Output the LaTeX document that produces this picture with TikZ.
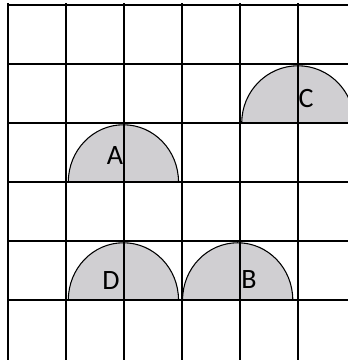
\documentclass[tikz,border=0pt]{standalone}
\usepackage{fontspec}
\setmainfont{Carlito}
\usepackage{xcolor}
\definecolor{discgray}{RGB}{208,207,210}

\begin{document}
\begin{tikzpicture}[x=43.5pt, y=44.25pt, line/.style={line width=1.6pt, black}, half/.style={line width=0.8pt, draw=black}, tag/.style={font=\fontsize{21}{21}\selectfont, inner sep=0pt}]
\useasboundingbox (-0.138,-0.017) rectangle (5.862,6.085);

% half discs
\fill[discgray] (1.04,3) arc[start angle=180, end angle=0, x radius=0.95, y radius=0.97] -- cycle;
\fill[discgray] (1.04,1) arc[start angle=180, end angle=0, x radius=0.95, y radius=0.97] -- cycle;
\fill[discgray] (3.01,1) arc[start angle=180, end angle=0, x radius=0.95, y radius=0.97] -- cycle;
\fill[discgray] (4.03,4) arc[start angle=180, end angle=0, x radius=0.97, y radius=0.97] -- cycle;

% grid
\foreach \i in {0,...,5} {
  \draw[line] (\i,6.03) -- (\i,-0.1);
}
\foreach \j in {1,...,6} {
  \draw[line] (-0.015,\j) -- (6,\j);
}

\draw[half] (1.04,3) arc[start angle=180, end angle=0, x radius=0.95, y radius=0.97];
\draw[half] (1.04,1) arc[start angle=180, end angle=0, x radius=0.95, y radius=0.97];
\draw[half] (3.01,1) arc[start angle=180, end angle=0, x radius=0.95, y radius=0.97];
\draw[half] (4.03,4) arc[start angle=180, end angle=0, x radius=0.97, y radius=0.97];

\node[tag] (A) at (1.845,3.45) {A};
\node[tag] (D) at (1.776,1.33) {D};
\node[tag] (B) at (4.155,1.35) {B};
\node[tag] (C) at (5.138,4.415) {C};
\end{tikzpicture}
\end{document}
